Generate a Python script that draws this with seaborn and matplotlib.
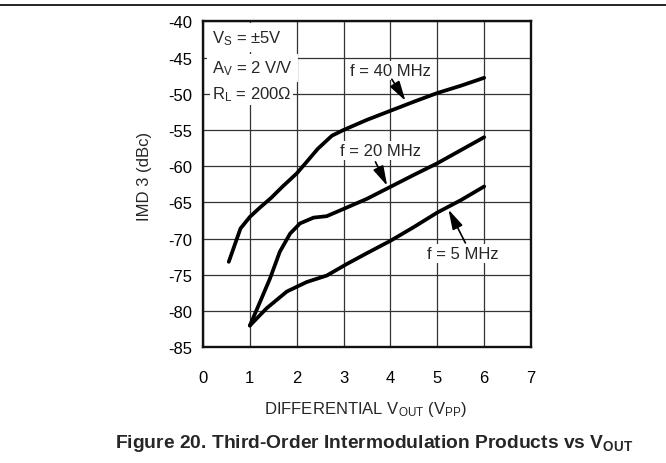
import numpy as np
import pandas as pd
import matplotlib
matplotlib.use('Agg')
import matplotlib.pyplot as plt
from matplotlib.lines import Line2D
import seaborn as sns

# ---- data ----
x_40 = [0.55, 0.8, 1.0, 1.2, 1.45, 1.7, 2.0, 2.2, 2.45, 2.75, 3.0, 3.5, 4.0, 4.5, 5.0, 5.5, 6.0]
y_40 = [-73.2, -68.6, -67.0, -65.8, -64.4, -62.8, -61.0, -59.5, -57.6, -55.8, -55.0, -53.6,
        -52.35, -51.1, -49.9, -48.9, -47.8]
x_20 = [1.0, 1.2, 1.43, 1.64, 1.86, 2.07, 2.36, 2.64, 3.0, 3.5, 4.0, 4.5, 5.0, 5.5, 6.0]
y_20 = [-82.0, -79.0, -75.5, -71.8, -69.3, -67.9, -67.1, -66.9, -65.9, -64.5, -62.85,
        -61.2, -59.6, -57.8, -56.0]
x_5 = [1.0, 1.36, 1.79, 2.21, 2.64, 3.07, 3.5, 4.0, 4.5, 5.0, 5.5, 6.0]
y_5 = [-82.0, -79.6, -77.3, -76.0, -75.1, -73.5, -72.0, -70.3, -68.4, -66.4, -64.7, -62.8]
series_labels = ['f = 40 MHz', 'f = 20 MHz', 'f = 5 MHz']
x_ticks = [0, 1, 2, 3, 4, 5, 6, 7]
y_ticks = [-85, -80, -75, -70, -65, -60, -55, -50, -45, -40]

df = pd.concat([
    pd.DataFrame({'v': x_40, 'imd': y_40, 'f': series_labels[0]}),
    pd.DataFrame({'v': x_20, 'imd': y_20, 'f': series_labels[1]}),
    pd.DataFrame({'v': x_5, 'imd': y_5, 'f': series_labels[2]}),
], ignore_index=True)

sns.set_theme(style='white')
plt.rcParams['font.family'] = ['Liberation Sans', 'DejaVu Sans']
plt.rcParams['mathtext.fontset'] = 'custom'
plt.rcParams['mathtext.rm'] = 'Liberation Sans'
plt.rcParams['mathtext.it'] = 'Liberation Sans'
plt.rcParams['mathtext.bf'] = 'Liberation Sans:bold'
plt.rcParams['axes.unicode_minus'] = False

fig = plt.figure(figsize=(6.66, 4.64), dpi=100)
ax = fig.add_axes([203 / 666, 1 - 348.3 / 464, 328 / 666, 326 / 464])

sns.lineplot(data=df, x='v', y='imd', hue='f', palette=['black'] * 3, sort=False,
             estimator=None, legend=False, lw=2.7, ax=ax, zorder=3)

ax.set_xlim(0, 7)
ax.set_ylim(-85, -40)
ax.set_xticks(x_ticks)
ax.set_yticks(y_ticks)
ax.set_xticklabels([str(t) for t in x_ticks])
ax.set_yticklabels([str(t) for t in y_ticks])
ax.grid(True, color='#333333', lw=0.9)
ax.set_axisbelow(True)
ax.tick_params(length=0, labelsize=12, colors='black')
ax.tick_params(axis='x', pad=16)
ax.tick_params(axis='y', pad=8)
for s in ax.spines.values():
    s.set_linewidth(1.7)
    s.set_color('#111111')
ax.set_xlabel('')
ax.set_ylabel('')

fs = 12
box = dict(facecolor='white', edgecolor='none', pad=1.5)
cond_box = dict(facecolor='white', edgecolor='none', pad=3.5)

# condition block
ax.text(0.19, -42.9, r'$\mathregular{V_S}$ = ±5V', fontsize=fs, va='baseline', ha='left', bbox=cond_box, zorder=4)
ax.text(0.19, -47.1, r'$\mathregular{A_V}$ = 2 V/V', fontsize=fs, va='baseline', ha='left', bbox=cond_box, zorder=4)
ax.text(0.19, -50.6, r'$\mathregular{R_L}$ = 200Ω', fontsize=fs, va='baseline', ha='left', bbox=box, zorder=4)

# curve labels with arrows
ann = [
    (series_labels[0], (4.0, -46.8), (4.03, -48.0), (4.32, -50.97)),
    (series_labels[1], (3.78, -57.9), (3.68, -59.4), (3.93, -62.7)),
    (series_labels[2], (5.55, -72.1), (5.6, -70.6), (5.24, -66.0)),
]
for lab, tpos, tail, head in ann:
    ax.text(tpos[0], tpos[1], lab, fontsize=fs, ha='center', va='center', bbox=box, zorder=4)
    ax.annotate('', xy=head, xytext=tail,
                arrowprops=dict(arrowstyle='-|>,head_length=1.0,head_width=0.28', color='black',
                                lw=1.2, shrinkA=0, shrinkB=0, mutation_scale=12), zorder=5)

# axis labels and caption
fig.text(145 / 666, 1 - 176 / 464, 'IMD 3 (dBc)', rotation=90, fontsize=fs, ha='center', va='center')
fig.text(366 / 666, 1 - 410 / 464, r'DIFFERENTIAL $\mathregular{V_{OUT}}$ ($\mathregular{V_{PP}}$)',
         fontsize=fs, ha='center', va='center')
fig.text(374 / 666, 1 - 444 / 464, r'Figure 20. Third-Order Intermodulation Products vs $\mathbf{V_{OUT}}$',
         fontsize=13.9, fontweight='bold', ha='center', va='center')

# header rule
fig.add_artist(Line2D([0, 1], [1 - 5.5 / 464] * 2, transform=fig.transFigure, color='black', lw=1.2))

fig.savefig('out.png', dpi=100)
